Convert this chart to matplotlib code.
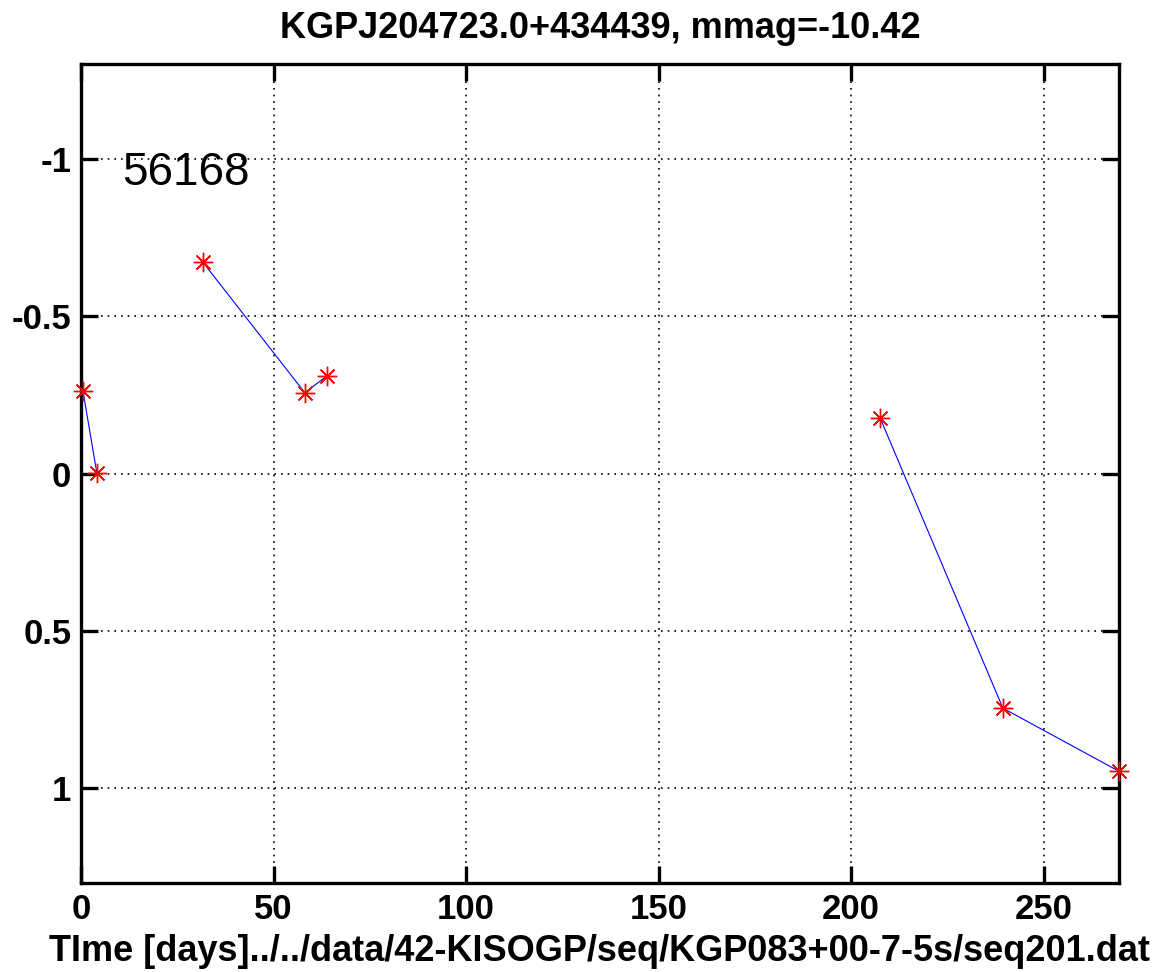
import matplotlib
matplotlib.use("Agg")
import matplotlib.pyplot as plt

# Light curve samples, grouped by observing season (gaps are not joined)
days_s1 = [0.5, 4.1]
dmag_s1 = [-0.263, -0.003]
days_s2 = [31.6, 58.1, 64.0]
dmag_s2 = [-0.672, -0.257, -0.311]
days_s3 = [207.5, 239.4, 269.5]
dmag_s3 = [-0.177, 0.745, 0.945]

xticks = [0, 50, 100, 150, 200, 250]
yticks = [-1, -0.5, 0, 0.5, 1]
ytick_labels = ["-1", "-0.5", "0", "0.5", "1"]

title = "KGPJ204723.0+434439, mmag=-10.42"
xlabel = "TIme [days]../../data/42-KISOGP/seq/KGP083+00-7-5s/seq201.dat"
epoch = "56168"

plt.rcParams["font.family"] = ["Liberation Sans", "DejaVu Sans"]

fig = plt.figure(figsize=(11.57, 9.72), dpi=100)
ax = fig.add_axes([0.070, 0.0916, 0.897, 0.8424])

star = (8, 2, 0)
for d, m in [(days_s1, dmag_s1), (days_s2, dmag_s2), (days_s3, dmag_s3)]:
    ax.plot(d, m, color="blue", linewidth=0.8, zorder=2)
    ax.plot(d, m, linestyle="none", marker=star, markersize=14,
            markeredgewidth=1.0, color="red", zorder=3, clip_on=False)

ax.set_xlim(0, 269.5)
ax.set_ylim(1.3, -1.3)
ax.set_xticks(xticks)
ax.set_yticks(yticks)
ax.set_yticklabels(ytick_labels)

ax.grid(True, linestyle=(0, (1, 3)), color="black", linewidth=1.2)
ax.set_axisbelow(True)

for s in ax.spines.values():
    s.set_linewidth(2.4)
ax.tick_params(direction="in", length=12, width=2.4, top=True, right=True,
               labelsize=25, pad=7)
for lbl in ax.get_xticklabels() + ax.get_yticklabels():
    lbl.set_fontweight("bold")

ax.set_title(title, fontsize=26, fontweight="bold", pad=19)
ax.set_xlabel(xlabel, fontsize=26, fontweight="bold", labelpad=6)

ax.text(10.6, -0.916, epoch, fontsize=33, ha="left", va="baseline")

fig.savefig("out.png", dpi=100)
